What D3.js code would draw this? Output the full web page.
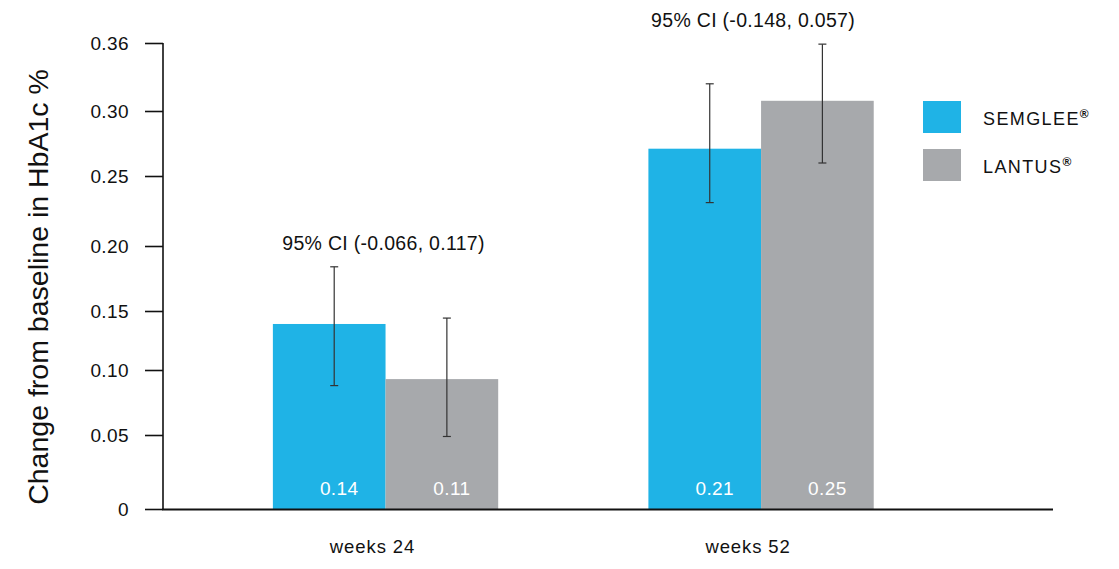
<!DOCTYPE html>
<html>
<head>
<meta charset="utf-8">
<script src="https://cdn.jsdelivr.net/npm/d3@7/dist/d3.min.js"></script>
<style>
  html, body { margin: 0; padding: 0; background: #fff; }
  svg { display: block; font-family: "Liberation Sans", Arial, Helvetica, sans-serif; }
</style>
</head>
<body>
<svg id="chart" width="1119" height="569"></svg>
<script>
// ---------------- DATA ----------------
const groups = ["weeks 24", "weeks 52"];
const seriesNames = ["SEMGLEE", "LANTUS"];
const semgleeValues = [0.139, 0.271];
const lantusValues  = [0.093, 0.309];
const semgleeLow  = [0.088, 0.231];
const semgleeHigh = [0.184, 0.324];
const lantusLow   = [0.049, 0.260];
const lantusHigh  = [0.144, 0.359];
const semgleeBarLabels = ["0.14", "0.21"];
const lantusBarLabels  = ["0.11", "0.25"];
const ciLabels = ["95% CI (-0.066, 0.117)", "95% CI (-0.148, 0.057)"];
const yTickValues = [0, 0.05, 0.10, 0.15, 0.20, 0.25, 0.30, 0.36];
const yTickLabels = ["0", "0.05", "0.10", "0.15", "0.20", "0.25", "0.30", "0.36"];
const yTitle = "Change from baseline in HbA1c %";

// ---------------- LAYOUT / STYLE ----------------
const colors = { SEMGLEE: "#1fb3e6", LANTUS: "#a7a9ac" };
const axisX = 163, axisRight = 1053;
// the original axis is not evenly spaced; map each tick to where it sits
const yRange = [509, 435, 370, 311, 246, 176, 111, 43];

const svg = d3.select("#chart");

const y = d3.scaleLinear().domain(yTickValues).range(yRange);
const x0 = d3.scaleBand().domain(groups).range([axisX, axisRight])
  .paddingInner(0.4).paddingOuter(0.385).align(0.38);
const x1 = d3.scaleBand().domain(seriesNames).range([0, x0.bandwidth()]);

const rows = [];
groups.forEach((g, i) => {
  rows.push({ g, s: "SEMGLEE", v: semgleeValues[i], lo: semgleeLow[i], hi: semgleeHigh[i], lab: semgleeBarLabels[i] });
  rows.push({ g, s: "LANTUS", v: lantusValues[i], lo: lantusLow[i], hi: lantusHigh[i], lab: lantusBarLabels[i] });
});

// bars
svg.append("g").selectAll("rect").data(rows).join("rect")
  .attr("x", d => x0(d.g) + x1(d.s))
  .attr("width", x1.bandwidth())
  .attr("y", d => y(d.v))
  .attr("height", d => y(0) - y(d.v))
  .attr("fill", d => colors[d.s]);

// error bars
const errOff = 5, capW = 8;
const eg = svg.append("g").attr("stroke", "#333").attr("stroke-width", 1.2);
rows.forEach(d => {
  const cx = x0(d.g) + x1(d.s) + x1.bandwidth() / 2 + errOff;
  eg.append("line").attr("x1", cx).attr("x2", cx).attr("y1", y(d.lo)).attr("y2", y(d.hi));
  eg.append("line").attr("x1", cx - capW / 2).attr("x2", cx + capW / 2).attr("y1", y(d.lo)).attr("y2", y(d.lo));
  eg.append("line").attr("x1", cx - capW / 2).attr("x2", cx + capW / 2).attr("y1", y(d.hi)).attr("y2", y(d.hi));
});

// value labels inside bars
svg.append("g").selectAll("text").data(rows).join("text")
  .attr("x", d => x0(d.g) + x1(d.s) + x1.bandwidth() / 2 + 10)
  .attr("y", 495)
  .attr("text-anchor", "middle")
  .attr("fill", "#fff")
  .attr("font-size", 19)
  .attr("letter-spacing", 0.4)
  .text(d => d.lab);

// CI labels above each group
const maxHi = groups.map((g, i) => Math.max(semgleeHigh[i], lantusHigh[i]));
svg.append("g").selectAll("text").data(groups).join("text")
  .attr("x", (g, i) => x0(g) + x0.bandwidth() / 2 - (i === 0 ? 2 : 8))
  .attr("y", (g, i) => y(maxHi[i]) - 17)
  .attr("text-anchor", "middle")
  .attr("fill", "#111")
  .attr("font-size", 19.5)
  .attr("letter-spacing", 0.3)
  .text((g, i) => ciLabels[i]);

// y axis
const yAxis = d3.axisLeft(y).tickValues(yTickValues).tickSize(18).tickPadding(16)
  .tickFormat((d, i) => yTickLabels[i]);
const ga = svg.append("g").attr("transform", `translate(${axisX},0)`).call(yAxis);
ga.select(".domain").remove();
ga.append("line").attr("x1", 0).attr("x2", 0).attr("y1", y(0.36)).attr("y2", y(0) + 1)
  .attr("stroke", "#111").attr("stroke-width", 1.6);
ga.selectAll(".tick line").attr("stroke", "#111").attr("stroke-width", 1.6);
ga.selectAll(".tick text").attr("fill", "#111").attr("font-size", 19)
  .attr("letter-spacing", 0.4)
  .attr("font-family", "Liberation Sans, Arial, sans-serif");

// x axis line
svg.append("line").attr("x1", axisX - 0.8).attr("x2", axisRight)
  .attr("y1", y(0) + 0.5).attr("y2", y(0) + 0.5)
  .attr("stroke", "#111").attr("stroke-width", 2.2);

// x labels
svg.append("g").selectAll("text").data(groups).join("text")
  .attr("x", g => x0(g) + x0.bandwidth() / 2 - 13)
  .attr("y", 553)
  .attr("text-anchor", "middle")
  .attr("fill", "#111")
  .attr("font-size", 18.5)
  .attr("letter-spacing", 0.9)
  .text(g => g);

// y title
svg.append("text")
  .attr("transform", `translate(48,${(y(0) + y(0.36)) / 2 + 11}) rotate(-90)`)
  .attr("text-anchor", "middle")
  .attr("fill", "#111")
  .attr("font-size", 28.5)
  .text(yTitle);

// legend
const lg = svg.append("g").attr("transform", "translate(923,101)");
seriesNames.forEach((s, i) => {
  const row = lg.append("g").attr("transform", `translate(0,${i * 48})`);
  row.append("rect").attr("width", 38).attr("height", 32).attr("fill", colors[s]);
  const t = row.append("text").attr("x", 60).attr("y", 24)
    .attr("font-size", 18).attr("letter-spacing", 1.4).attr("fill", "#111");
  t.append("tspan").text(s);
  t.append("tspan").attr("font-size", 12).attr("font-weight", "bold").attr("dy", -7).attr("letter-spacing", 0).text("®");
});
</script>
</body>
</html>
